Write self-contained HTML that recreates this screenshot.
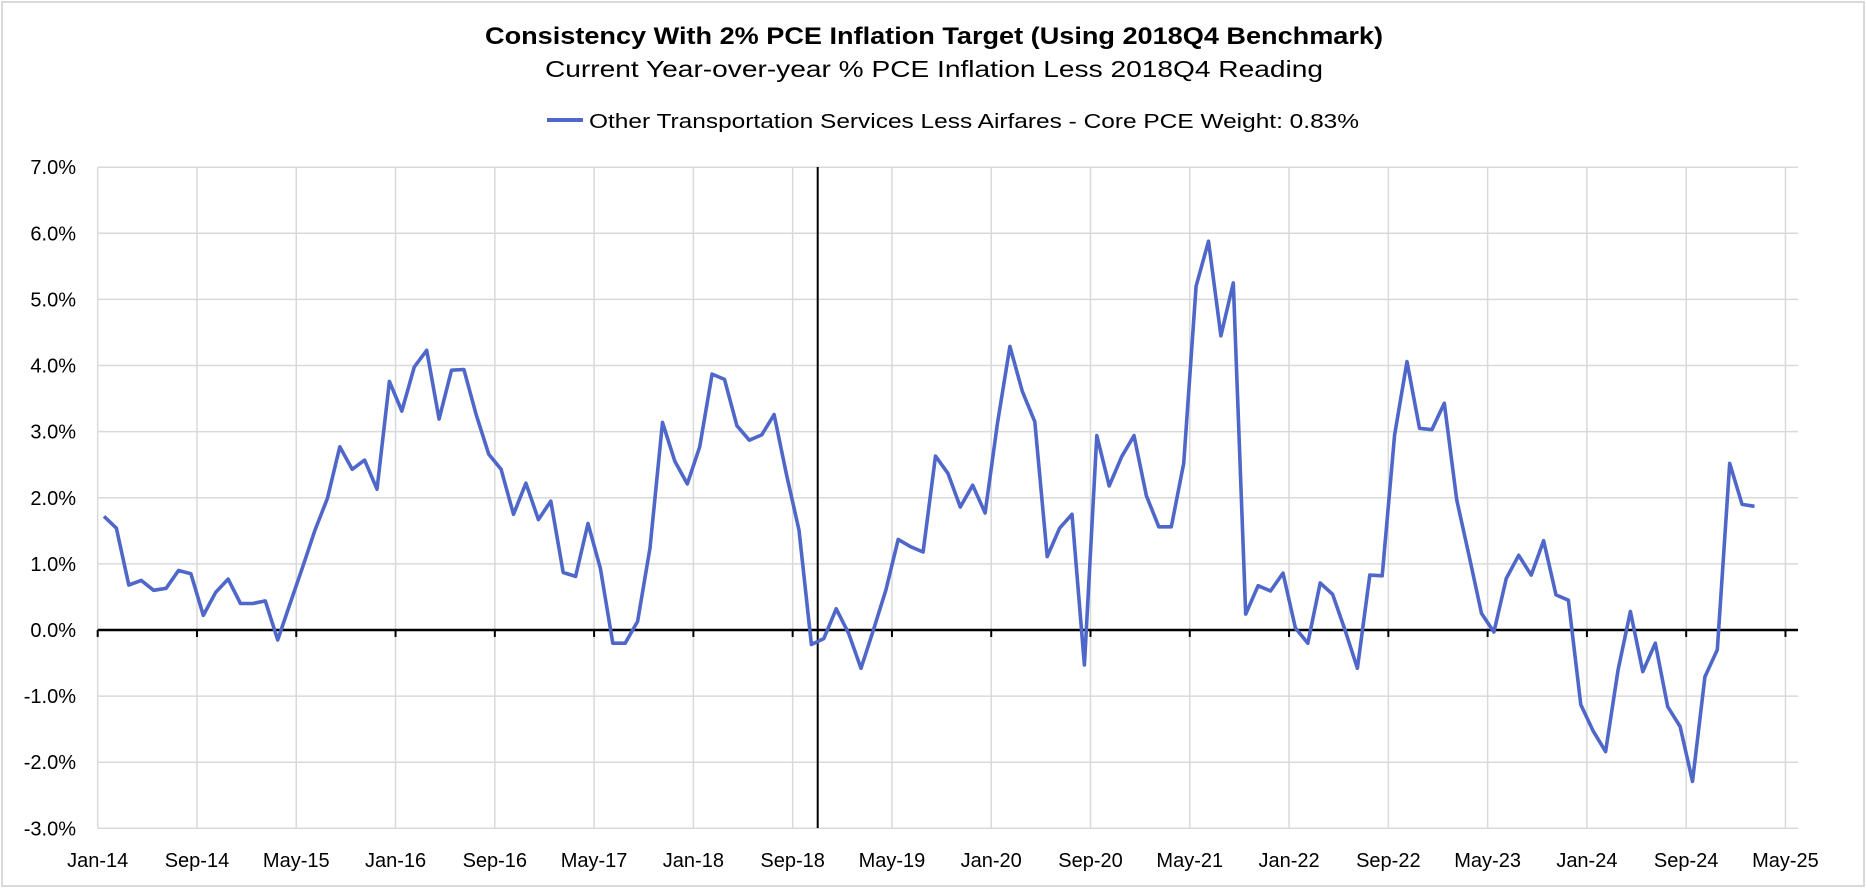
<!DOCTYPE html>
<html><head><meta charset="utf-8"><style>
html,body{margin:0;padding:0;background:#fff;}
svg{display:block;font-family:"Liberation Sans",sans-serif;}
</style></head><body>
<svg id="chart" width="1866" height="888" viewBox="0 0 1866 888" xmlns="http://www.w3.org/2000/svg">
<rect x="2" y="2" width="1862" height="884" fill="#fff" stroke="#d9d9d9" stroke-width="2"/>
<text x="934" y="44" text-anchor="middle" font-size="24" font-weight="bold" textLength="898" lengthAdjust="spacingAndGlyphs">Consistency With 2% PCE Inflation Target (Using 2018Q4 Benchmark)</text>
<text x="934" y="77" text-anchor="middle" font-size="23" textLength="778" lengthAdjust="spacingAndGlyphs">Current Year-over-year % PCE Inflation Less 2018Q4 Reading</text>
<g>
<line x1="547" y1="120" x2="583" y2="120" stroke="#4F67C8" stroke-width="4"/>
<text x="589" y="128" font-size="20" textLength="770" lengthAdjust="spacingAndGlyphs">Other Transportation Services Less Airfares - Core PCE Weight: 0.83%</text>
</g>
<g id="grid"></g>
<g id="yticks"></g>
<g id="xticks"></g>
<line x1="817.7" y1="167" x2="817.7" y2="828" stroke="#000" stroke-width="2"/>
<g id="zero"></g>
<path id="series" fill="none" stroke="#4F67C8" stroke-width="3.6" stroke-linejoin="round"/>
</svg>
<script>
const values = [1.72,1.54,0.68,0.75,0.6,0.63,0.9,0.85,0.22,0.57,
0.77,0.4,0.4,0.44,-0.15,0.4,0.95,1.51,1.99,2.77,
2.43,2.57,2.13,3.76,3.31,3.98,4.23,3.19,3.93,3.94,
3.25,2.66,2.43,1.75,2.22,1.67,1.95,0.87,0.81,1.61,
0.93,-0.2,-0.2,0.13,1.24,3.14,2.55,2.21,2.77,3.87,
3.79,3.09,2.87,2.95,3.26,2.35,1.51,-0.22,-0.13,0.32,
-0.05,-0.58,0.0,0.6,1.37,1.26,1.18,2.63,2.37,1.86,
2.19,1.77,3.13,4.29,3.61,3.15,1.11,1.54,1.75,-0.53,
2.94,2.18,2.62,2.94,2.03,1.56,1.56,2.52,5.2,5.88,
4.45,5.25,0.24,0.67,0.59,0.86,0.03,-0.2,0.71,0.54,
0.0,-0.58,0.83,0.82,2.95,4.06,3.05,3.03,3.43,1.97,
1.12,0.25,-0.03,0.78,1.13,0.83,1.35,0.53,0.45,-1.13,
-1.53,-1.84,-0.61,0.28,-0.63,-0.2,-1.16,-1.46,-2.29,-0.71,
-0.3,2.52,1.9,1.87];
const xTickLabels = ["Jan-14","Sep-14","May-15","Jan-16","Sep-16","May-17","Jan-18","Sep-18","May-19","Jan-20","Sep-20","May-21","Jan-22","Sep-22","May-23","Jan-24","Sep-24","May-25"];
const yTickValues = [7,6,5,4,3,2,1,0,-1,-2,-3];

const NS="http://www.w3.org/2000/svg";
const plotLeft=97.7,plotRight=1798,plotTop=167.2,plotBottom=828.3,yMin=-3,yMax=7;
const monthW=12.41, firstX=104;
function yScale(v){ return plotBottom - (v-yMin)/(yMax-yMin)*(plotBottom-plotTop); }
function xMonth(i){ return firstX + i*monthW; }
function xTick(k){ return plotLeft + k*8*monthW; }
function mk(tag,attrs,parent){const e=document.createElementNS(NS,tag);for(const k in attrs)e.setAttribute(k,attrs[k]);parent.appendChild(e);return e;}
const grid=document.getElementById('grid'), ytg=document.getElementById('yticks'), xtg=document.getElementById('xticks'), zero=document.getElementById('zero');
yTickValues.forEach(v=>{
  const l=mk('line',{x1:plotLeft,x2:plotRight,y1:yScale(v),y2:yScale(v),stroke:'#d9d9d9','stroke-width':1.5},grid);
  
  
  const t=mk('text',{x:76,y:yScale(v)+7,'text-anchor':'end','font-size':20},ytg);
  t.textContent=v.toFixed(1)+'%';
  
  
});
xTickLabels.forEach((s,k)=>{
  const gx=xTick(k);
  const l=mk('line',{x1:gx,x2:gx,y1:plotTop,y2:plotBottom,stroke:'#d9d9d9','stroke-width':1.5},grid);
  
  
  const t=mk('text',{x:gx,y:867,'text-anchor':'middle','font-size':20},xtg);
  t.textContent=s;
  
  
  const tk=mk('line',{x1:gx,x2:gx,y1:yScale(0),y2:yScale(0)+7,stroke:'#000','stroke-width':2},zero);
  
  
});
const zl=mk('line',{x1:plotLeft,x2:plotRight,y1:yScale(0),y2:yScale(0),stroke:'#000','stroke-width':2.5},zero);


document.getElementById('series').setAttribute('d',values.map((v,i)=>(i?'L':'M')+xMonth(i).toFixed(1)+','+yScale(v).toFixed(1)).join(''));
</script>
</body></html>
